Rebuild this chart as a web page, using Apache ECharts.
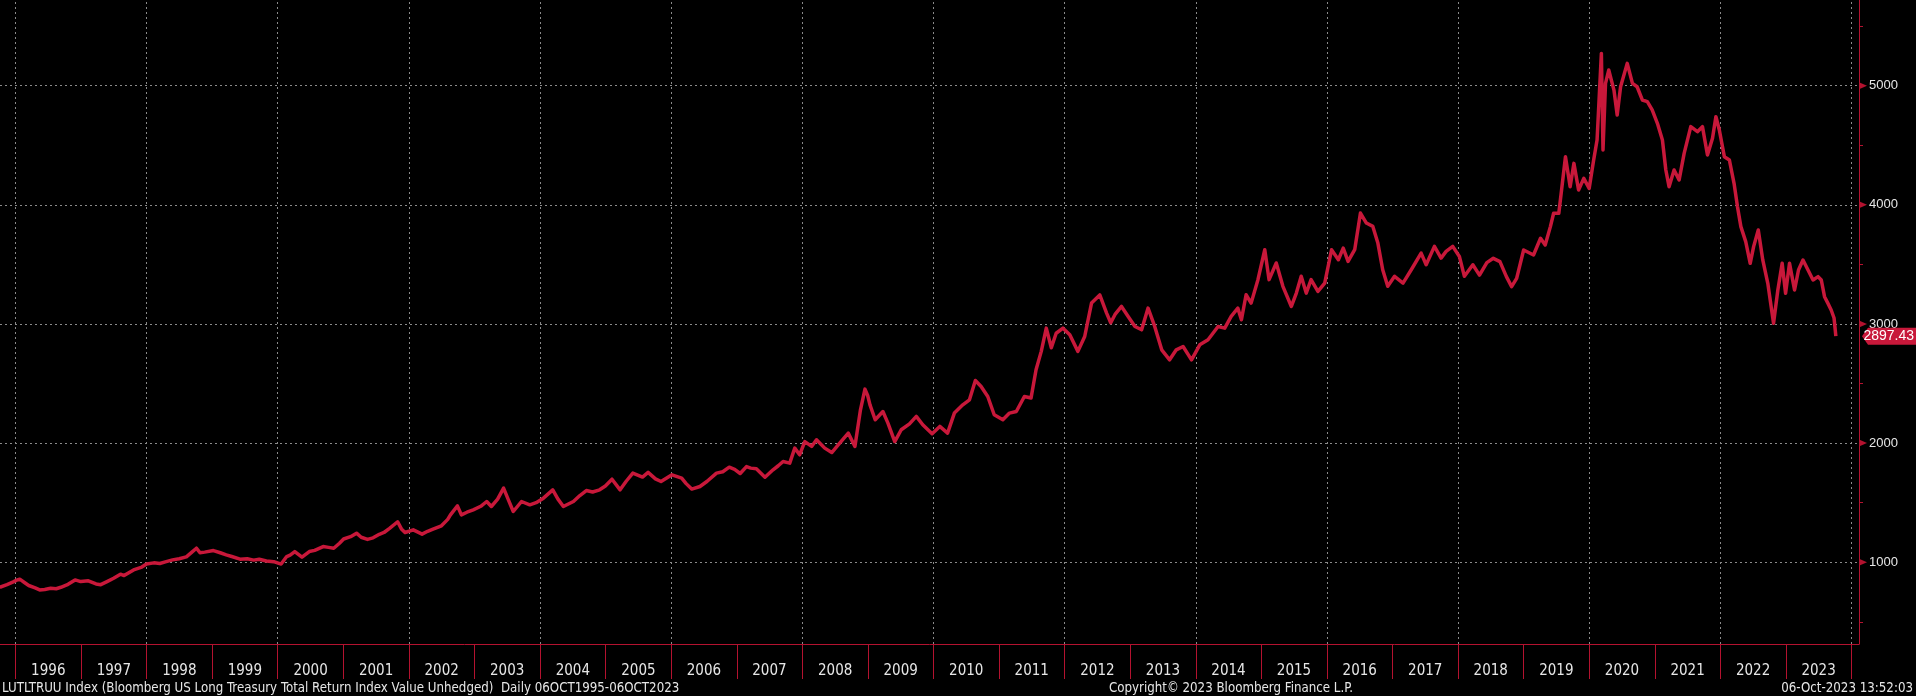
<!DOCTYPE html>
<html><head><meta charset="utf-8">
<script src="https://cdn.jsdelivr.net/npm/echarts@6/dist/echarts.min.js"></script>
<style>html,body{margin:0;padding:0;background:#000;}#c{width:1916px;height:696px;}</style>
</head><body><div id="c"></div>
<script>
// ---- data ----
const dates = [
'1995-10-06','1995-11-15','1995-12-20','1996-01-08','1996-01-25','1996-02-20','1996-03-15','1996-04-20','1996-05-15','1996-06-12',
'1996-07-15','1996-08-15','1996-09-10','1996-10-20','1996-11-28','1996-12-30','1997-02-10','1997-03-25','1997-04-20','1997-05-25',
'1997-07-01','1997-08-08','1997-08-28','1997-10-20','1997-12-05','1997-12-31','1998-02-10','1998-03-15','1998-04-20','1998-05-25',
'1998-07-01','1998-08-10','1998-09-10','1998-10-05','1998-10-25','1998-11-20','1999-01-08','1999-02-15','1999-03-20','1999-04-20',
'1999-06-05','1999-07-15','1999-08-20','1999-09-20','1999-10-30','1999-12-10','2000-01-20','2000-02-20','2000-03-10','2000-04-05',
'2000-05-15','2000-06-25','2000-07-25','2000-09-10','2000-10-10','2000-11-08','2000-12-10','2001-01-02','2001-02-10','2001-03-15',
'2001-04-10','2001-05-15','2001-06-15','2001-07-20','2001-08-15','2001-09-15','2001-10-30','2001-11-20','2001-12-10','2002-01-25',
'2002-03-15','2002-04-15','2002-05-15','2002-07-01','2002-08-05','2002-08-20','2002-09-28','2002-10-20','2002-11-20','2002-12-25',
'2003-02-05','2003-03-10','2003-04-05','2003-05-10','2003-06-12','2003-07-10','2003-08-05','2003-09-20','2003-11-05','2003-12-10',
'2004-01-20','2004-03-12','2004-04-10','2004-05-10','2004-07-05','2004-08-10','2004-09-15','2004-10-20','2004-11-28','2004-12-30',
'2005-02-05','2005-03-22','2005-04-25','2005-06-01','2005-07-25','2005-08-25','2005-10-05','2005-11-05','2006-01-05','2006-02-28',
'2006-03-25','2006-04-25','2006-06-10','2006-07-20','2006-09-10','2006-10-15','2006-11-20','2006-12-20','2007-01-20','2007-02-24',
'2007-03-20','2007-04-20','2007-06-07','2007-07-22','2007-08-20','2007-09-16','2007-10-23','2007-11-20','2007-12-17','2008-01-15',
'2008-02-22','2008-03-20','2008-05-05','2008-06-13','2008-07-19','2008-09-13','2008-10-20','2008-11-20','2008-12-15','2008-12-30',
'2009-01-12','2009-02-10','2009-03-25','2009-04-22','2009-05-30','2009-07-05','2009-08-20','2009-09-27','2009-11-02','2009-12-24',
'2010-02-05','2010-03-20','2010-04-27','2010-06-13','2010-07-20','2010-08-22','2010-09-23','2010-10-30','2010-12-05','2011-01-22',
'2011-02-28','2011-04-07','2011-05-22','2011-06-28','2011-07-26','2011-08-24','2011-09-21','2011-10-19','2011-11-15','2011-12-23',
'2012-01-30','2012-03-15','2012-04-22','2012-05-30','2012-07-15','2012-08-22','2012-09-14','2012-10-08','2012-11-13','2012-12-20',
'2013-01-27','2013-03-05','2013-04-10','2013-05-17','2013-06-25','2013-08-08','2013-09-14','2013-10-22','2013-12-08','2014-01-23',
'2014-03-10','2014-05-05','2014-06-11','2014-07-17','2014-08-23','2014-09-12','2014-10-08','2014-11-05','2014-12-13','2015-01-20',
'2015-02-13','2015-03-25','2015-05-01','2015-06-17','2015-07-15','2015-08-11','2015-09-08','2015-10-05','2015-11-12','2015-12-20',
'2016-01-27','2016-03-05','2016-04-01','2016-04-28','2016-06-04','2016-07-06','2016-08-08','2016-09-13','2016-10-11','2016-11-07',
'2016-12-05','2017-01-12','2017-02-28','2017-04-15','2017-06-09','2017-07-07','2017-08-22','2017-09-28','2017-10-26','2017-12-02',
'2018-01-08','2018-02-05','2018-03-24','2018-04-30','2018-06-10','2018-07-16','2018-08-22','2018-09-27','2018-10-26','2018-11-23',
'2019-01-01','2019-02-25','2019-04-05','2019-05-01','2019-05-30','2019-06-17','2019-07-16','2019-08-22','2019-09-17','2019-10-08',
'2019-11-03','2019-12-02','2020-01-01','2020-01-26','2020-02-14','2020-03-09','2020-03-18','2020-04-01','2020-04-19','2020-05-18',
'2020-06-05','2020-06-24','2020-07-31','2020-08-29','2020-09-24','2020-10-23','2020-11-20','2020-12-17','2021-01-15','2021-02-12',
'2021-03-03','2021-03-21','2021-04-18','2021-05-16','2021-06-13','2021-07-20','2021-08-26','2021-09-23','2021-10-21','2021-11-18',
'2021-12-07','2021-12-26','2022-01-23','2022-02-20','2022-03-18','2022-04-06','2022-04-25','2022-05-22','2022-06-16','2022-07-05',
'2022-07-31','2022-08-25','2022-09-22','2022-10-24','2022-11-17','2022-12-11','2022-12-30','2023-01-21','2023-02-18','2023-03-12',
'2023-04-06','2023-05-04','2023-06-01','2023-06-29','2023-07-17','2023-08-04','2023-08-23','2023-09-10','2023-09-26','2023-10-06'
];
const values = [
790,812,835,850,858,830,805,785,768,772,
782,778,790,815,852,838,844,818,812,838,
866,900,888,936,960,985,995,990,1005,1020,
1030,1045,1085,1118,1080,1085,1098,1080,1062,1048,
1026,1030,1018,1025,1010,1005,985,1048,1060,1090,
1043,1090,1100,1132,1125,1118,1160,1195,1215,1244,
1210,1192,1205,1235,1250,1285,1340,1280,1250,1272,
1236,1260,1278,1306,1360,1398,1473,1398,1420,1440,
1470,1510,1468,1530,1622,1520,1426,1510,1482,1500,
1538,1608,1530,1468,1510,1560,1602,1590,1608,1640,
1697,1608,1680,1748,1715,1754,1700,1678,1734,1706,
1660,1614,1636,1680,1748,1760,1798,1780,1745,1803,
1790,1784,1714,1776,1810,1846,1832,1958,1902,2013,
1972,2028,1958,1921,1986,2084,1972,2280,2453,2400,
2321,2196,2265,2168,2013,2112,2162,2224,2154,2079,
2140,2084,2252,2321,2363,2526,2475,2391,2238,2196,
2252,2265,2391,2378,2616,2770,2965,2800,2922,2965,
2909,2770,2895,3175,3244,3091,3010,3080,3147,3063,
2979,2951,3133,2979,2783,2699,2783,2811,2699,2825,
2867,2979,2965,3063,3133,3035,3245,3175,3372,3623,
3372,3512,3316,3147,3259,3400,3259,3372,3273,3343,
3623,3539,3637,3525,3623,3931,3847,3819,3679,3455,
3316,3400,3343,3455,3595,3497,3651,3553,3609,3651,
3567,3400,3497,3410,3515,3551,3523,3397,3313,3383,
3621,3579,3719,3663,3817,3929,3929,4404,4152,4348,
4124,4222,4138,4376,4544,5271,4460,5019,5131,4963,
4754,4991,5187,5019,4991,4880,4866,4796,4684,4544,
4292,4152,4292,4208,4432,4656,4614,4656,4418,4558,
4740,4628,4404,4376,4180,3985,3817,3691,3509,3649,
3789,3537,3341,3006,3285,3509,3257,3509,3285,3453,
3537,3453,3369,3397,3369,3229,3173,3117,3050,2897.43
];
const yearLabels = [1996,1997,1998,1999,2000,2001,2002,2003,2004,2005,2006,2007,2008,2009,2010,2011,2012,2013,2014,2015,2016,2017,2018,2019,2020,2021,2022,2023];
const yLabelValues = [1000,2000,3000,4000,5000];
const yMinorValues = [500,1500,2500,3500,4500,5500];
const lastValue = 2897.43;
const titleText = 'LUTLTRUU Index (Bloomberg US Long Treasury Total Return Index Value Unhedged)  Daily 06OCT1995-06OCT2023';
const copyrightText = 'Copyright\u00A9 2023 Bloomberg Finance L.P.';
const stampText = '06-Oct-2023 13:52:03';

// ---- chart ----
const LINE = '#c8183a', AXIS = '#b3122f', GRIDC = '#8a8a8a', TXT = '#e6e6e6';
const NARROW = "'Liberation Sans Narrow','Arial Narrow','DejaVu Sans Condensed',sans-serif";
const ts = (y, m, d) => new Date(y, m, d).getTime();
const parseDate = s => { const p = s.split('-').map(Number); return ts(p[0], p[1] - 1, p[2]); };
const xMin = ts(1995, 9, 7), xMax = ts(2024, 1, 12);
const yearStarts = []; for (let y = 1996; y <= 2024; y++) yearStarts.push(ts(y, 0, 1));
const evenYearStarts = yearStarts.filter(t => new Date(t).getFullYear() % 2 === 0);
const labelMids = yearLabels.map(y => ts(y, 6, 2));
const seriesData = dates.map((d, i) => [parseDate(d), values[i]]);

const chart = echarts.init(document.getElementById('c'), null, {renderer: 'canvas'});
const option = {
  backgroundColor: '#000',
  animation: false,
  grid: {left: 0, right: 57, top: 0, bottom: 52, containLabel: false},
  xAxis: {
    type: 'value', min: xMin, max: xMax, scale: true,
    axisLine: {show: true, onZero: false, lineStyle: {color: AXIS, width: 1}},
    axisTick: {show: true, customValues: yearStarts, length: 35, lineStyle: {color: AXIS, width: 1}},
    axisLabel: {show: true, customValues: labelMids, color: TXT, fontSize: 15, fontFamily: NARROW, margin: 20,
      formatter: v => String(new Date(v).getFullYear())},
    splitLine: {show: false}
  },
  yAxis: {
    type: 'value', position: 'right', min: 314, max: 5719, scale: true,
    axisLine: {show: true, onZero: false, lineStyle: {color: AXIS, width: 1}},
    axisTick: {show: true, customValues: yMinorValues, length: 4, lineStyle: {color: AXIS}},
    axisLabel: {show: true, customValues: yLabelValues, color: TXT, fontSize: 13, fontFamily: "'Liberation Sans',Arial,sans-serif", margin: 10,
      formatter: v => String(Math.round(v))},
    splitLine: {show: false}
  },
  series: [{
    type: 'line', data: seriesData, showSymbol: false, symbol: 'none', z: 3,
    lineStyle: {color: LINE, width: 3.5, join: 'round'},
    markLine: {
      z: 1, silent: true, symbol: 'none', animation: false,
      label: {show: false},
      lineStyle: {color: GRIDC, type: [2, 3], width: 1},
      emphasis: {disabled: true},
      data: [
        ...yLabelValues.map(v => ({yAxis: v})),
        ...evenYearStarts.map(t => ({xAxis: t}))
      ]
    }
  }]
};
chart.setOption(option);

const xr = chart.convertToPixel({xAxisIndex: 0}, xMax);
const graphics = [];
yLabelValues.forEach(v => {
  const y = chart.convertToPixel({yAxisIndex: 0}, v);
  graphics.push({type: 'polygon', z: 50, silent: true,
    shape: {points: [[xr, y - 3.5], [xr + 8, y], [xr, y + 3.5]]}, style: {fill: AXIS}});
});
const yl = chart.convertToPixel({yAxisIndex: 0}, lastValue);
graphics.push({type: 'polygon', z: 60, silent: true,
  shape: {points: [[xr + 3, yl], [xr + 9, yl - 8.5], [1916, yl - 8.5], [1916, yl + 8.5], [xr + 9, yl + 8.5]]},
  style: {fill: '#c8183a'}});
graphics.push({type: 'text', z: 61, silent: true, x: 1914, y: yl,
  style: {text: lastValue.toFixed(2), fill: '#ffffff', font: "14px 'Liberation Sans',Arial,sans-serif", align: 'right', verticalAlign: 'middle'}});
graphics.push({type: 'text', z: 61, silent: true, x: 2, y: 689,
  style: {text: titleText, fill: TXT, font: '13.2px ' + NARROW, align: 'left', verticalAlign: 'middle'}});
graphics.push({type: 'text', z: 61, silent: true, x: 1231, y: 689,
  style: {text: copyrightText, fill: TXT, font: '13.2px ' + NARROW, align: 'center', verticalAlign: 'middle'}});
graphics.push({type: 'text', z: 61, silent: true, x: 1913, y: 689,
  style: {text: stampText, fill: TXT, font: '13.2px ' + NARROW, align: 'right', verticalAlign: 'middle'}});
chart.setOption({graphic: graphics});
</script>
</body></html>
